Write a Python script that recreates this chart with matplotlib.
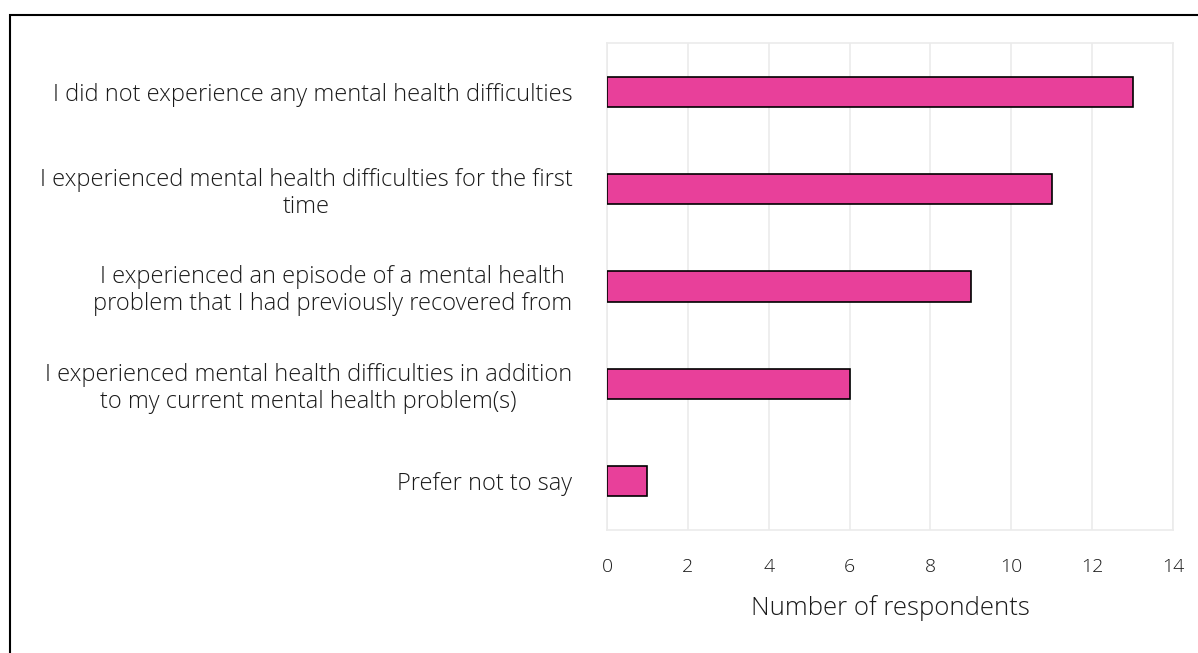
import numpy as np
import matplotlib.pyplot as plt
from matplotlib.patches import Rectangle

# survey answers, top to bottom
categories = [
    "I did not experience any mental health difficulties",
    "I experienced mental health difficulties for the first\ntime",
    "I experienced an episode of a mental health\nproblem that I had previously recovered from",
    "I experienced mental health difficulties in addition\nto my current mental health problem(s)",
    "Prefer not to say",
]
counts = [13, 11, 9, 6, 1]
xticks = [0, 2, 4, 6, 8, 10, 12, 14]

plt.rcParams['font.family'] = ['Open Sans', 'DejaVu Sans']

fig = plt.figure(figsize=(11.98, 6.53), dpi=100)
ax = fig.add_axes([0.5067, 0.1884, 0.4724, 0.7458])

y = np.arange(len(categories))
ax.barh(y, counts, height=0.31, color='#E8409A', edgecolor='black', linewidth=1.2, zorder=3)

ax.set_ylim(len(categories) - 0.5, -0.5)
ax.set_xlim(0, 14)
ax.set_xticks(xticks)
ax.set_yticks(y)
ax.set_yticklabels(categories, multialignment='center', fontsize=17, color='#1a1a1a',
                   fontweight='light', linespacing=1.15)
ax.tick_params(axis='x', length=0, pad=20, labelsize=14, labelcolor='#1a1a1a')
for t in ax.get_xticklabels():
    t.set_fontweight('light')
ax.tick_params(axis='y', length=0, pad=25)
ax.grid(axis='x', color='#EBEBEB', linewidth=1.2, zorder=0)
for s in ax.spines.values():
    s.set_color('#EBEBEB')
    s.set_linewidth(1.2)

ax.set_xlabel('Number of respondents', fontsize=18.5, color='#1a1a1a', labelpad=14,
              fontweight='light')

# frame around the whole chart
fig.patches.append(Rectangle((10 / 1198, -0.1), 1.2, 1.1 - 15 / 653, transform=fig.transFigure,
                             fill=False, edgecolor='black', linewidth=1.5))

fig.savefig('out.png', dpi=100)
